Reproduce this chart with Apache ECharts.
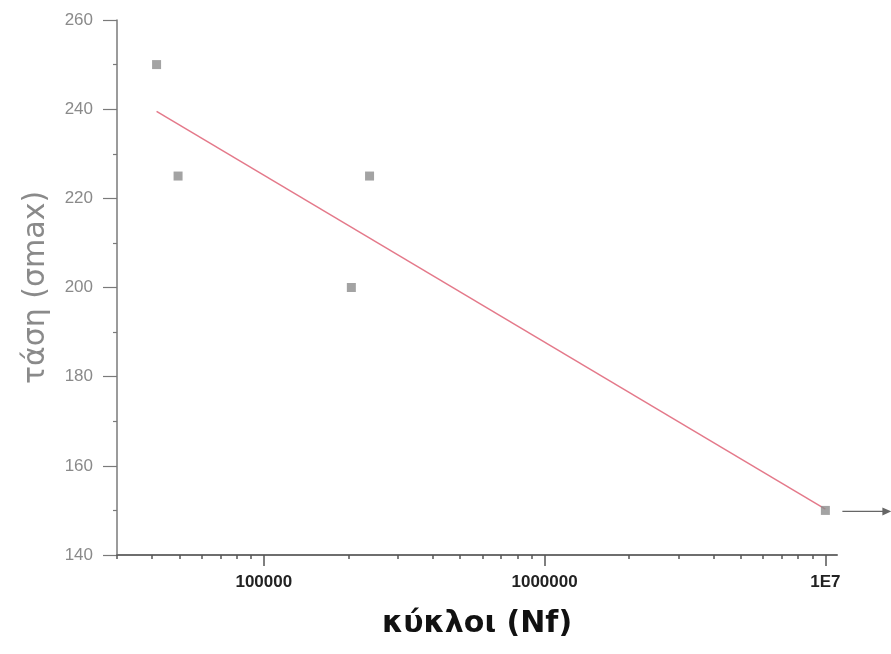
<!DOCTYPE html>
<html>
<head>
<meta charset="utf-8">
<script src="https://cdn.jsdelivr.net/npm/echarts@6/dist/echarts.min.js"></script>
<style>
  html, body { margin: 0; padding: 0; background: #fff; }
  #chart { width: 891px; height: 654px; }
</style>
</head>
<body>
<div id="chart"></div>
<script>
// measured points: cycles (Nf) vs stress (sigma max)
const cycles = [41500, 49500, 205000, 238000, 10000000];
const stress = [250, 225, 200, 225, 150];

// fitted line end points (log x)
const fitCycles = [41500, 10000000];
const fitStress = [239.5, 150.3];

const xMajorTicks = [100000, 1000000, 10000000];
const xMinorTicks = [30000, 40000, 50000, 60000, 70000, 80000, 90000,
  200000, 300000, 400000, 500000, 600000, 700000, 800000, 900000,
  2000000, 3000000, 4000000, 5000000, 6000000, 7000000, 8000000, 9000000];
const yTicks = [140, 160, 180, 200, 220, 240, 260];

const chart = echarts.init(document.getElementById('chart'));

const axisGray = '#7a7a7a';

const option = {
  backgroundColor: '#ffffff',
  animation: false,
  grid: { left: 117, right: 54, top: 20, bottom: 99 },
  xAxis: [
    {
      type: 'log',
      position: 'bottom',
      min: 30000,
      max: 11000000,
      name: 'κύκλοι (Nf)',
      nameLocation: 'middle',
      nameGap: 54,
      nameTextStyle: { fontFamily: 'DejaVu Sans', fontWeight: 'bold', fontSize: 30, color: '#111' },
      axisLine: { lineStyle: { color: '#6e6e6e', width: 2 } },
      axisTick: { length: 11, customValues: xMajorTicks, lineStyle: { color: '#555', width: 1.5 } },
      axisLabel: {
        customValues: xMajorTicks,
        margin: 19,
        fontFamily: 'Liberation Sans',
        fontWeight: 'bold',
        fontSize: 17,
        color: '#222',
        formatter: function (v) {
          return v >= 10000000 ? '1E7' : String(Math.round(v));
        }
      },
      splitLine: { show: false }
    },
    {
      type: 'log',
      position: 'bottom',
      min: 30000,
      max: 11000000,
      axisLine: { show: false },
      axisTick: { length: 4, customValues: xMinorTicks, lineStyle: { color: '#555', width: 1.5 } },
      axisLabel: { show: false },
      splitLine: { show: false }
    }
  ],
  yAxis: {
    type: 'value',
    min: 140,
    max: 260,
    interval: 20,
    name: 'τάση (σmax)',
    nameLocation: 'middle',
    nameGap: 66,
    nameTextStyle: { fontFamily: 'DejaVu Sans', fontSize: 30, color: '#8a8a8a' },
    axisLine: { show: true, lineStyle: { color: axisGray, width: 1.5 } },
    axisTick: { show: true, length: 14, lineStyle: { color: axisGray, width: 1.2 } },
    minorTick: { show: true, splitNumber: 2, length: 4, lineStyle: { color: axisGray, width: 1.2 } },
    axisLabel: {
      margin: 24,
      fontFamily: 'Liberation Sans',
      fontSize: 17,
      color: '#8a8a8a',
      formatter: function (v) { return yTicks.indexOf(v) >= 0 ? String(v) : ''; }
    },
    splitLine: { show: false }
  },
  series: [
    {
      type: 'line',
      data: fitCycles.map((c, i) => [c, fitStress[i]]),
      showSymbol: false,
      symbol: 'none',
      lineStyle: { color: '#e4798a', width: 1.5 },
      z: 2
    },
    {
      type: 'scatter',
      data: cycles.map((c, i) => [c, stress[i]]),
      symbol: 'rect',
      symbolSize: 9,
      itemStyle: { color: '#8c8c8c' },
      z: 3
    }
  ]
};

chart.setOption(option);

// run-out arrow next to the last point
const p = chart.convertToPixel({ xAxisIndex: 0, yAxisIndex: 0 }, [cycles[4], stress[4]]);
chart.setOption({
  graphic: [
    {
      type: 'line',
      shape: { x1: p[0] + 17, y1: p[1] + 1, x2: p[0] + 62, y2: p[1] + 1 },
      style: { stroke: '#666', lineWidth: 1.3 }
    },
    {
      type: 'polygon',
      shape: { points: [[p[0] + 66, p[1] + 1], [p[0] + 57, p[1] - 3], [p[0] + 57, p[1] + 5]] },
      style: { fill: '#666' }
    }
  ]
});
</script>
</body>
</html>
